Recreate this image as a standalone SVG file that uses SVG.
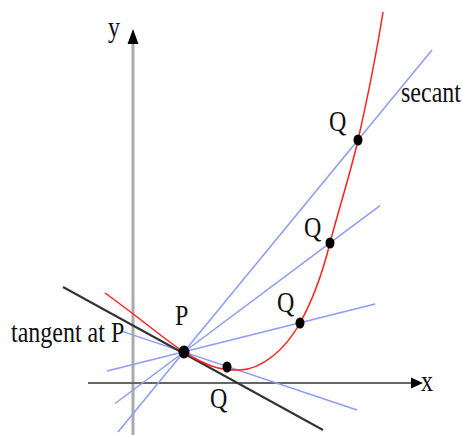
<svg xmlns="http://www.w3.org/2000/svg" width="462" height="435" viewBox="0 0 462 435">
<style>
.lbl{font-family:"Liberation Serif","Times New Roman",serif;font-size:24px;fill:#111}
.sec{stroke:#8c9cf5;stroke-width:1.5;fill:none}
.dot{fill:#000}
</style>
<rect width="462" height="435" fill="#fff"/>
<g id="axes">
<line x1="133" y1="435" x2="133" y2="42" stroke="#aaa" stroke-width="3"/>
<polygon points="133,29 138.5,44 127.5,44" fill="#000"/>
<line x1="88" y1="383" x2="412" y2="383" stroke="#666" stroke-width="2"/>
<polygon points="423,383 411,377.5 411,388.5" fill="#000"/>
</g>
<g id="connectors">
<line class="sec" x1="123" y1="331.6" x2="357" y2="410"/>
<line class="sec" x1="107" y1="371" x2="375" y2="304"/>
<line class="sec" x1="115" y1="403.5" x2="380" y2="205.6"/>
<line class="sec" x1="118" y1="432" x2="432" y2="50"/>
<line x1="63" y1="287" x2="323" y2="430" stroke="#333" stroke-width="2"/>
</g>
<g id="curve">
<path d="M105,293 C140,318 165,340 184,352 C205,365 220,371 240,370 C262,369 285,350 300,323 C310,305 322,275 330,243 C337,215 350,175 358,140 C365,109 377,50 383,12" fill="none" stroke="#ff2020" stroke-width="1.5"/>
</g>
<g id="P"><ellipse class="dot" cx="184" cy="352" rx="5.5" ry="6.5"/></g>
<g id="Q1"><ellipse class="dot" cx="227" cy="367" rx="4.5" ry="5.5"/></g>
<g id="Q2"><ellipse class="dot" cx="300" cy="323" rx="4.5" ry="5.5"/></g>
<g id="Q3"><ellipse class="dot" cx="330" cy="243" rx="4.5" ry="5.5"/></g>
<g id="Q4"><ellipse class="dot" cx="358" cy="140" rx="4.5" ry="5.5"/></g>
<g id="labels">
<text class="lbl" transform="translate(108,37) scale(1,1.25)">y</text>
<text class="lbl" transform="translate(421,391) scale(1,1.25)">x</text>
<text class="lbl" transform="translate(401,102) scale(1,1.25)">secant</text>
<text class="lbl" transform="translate(11,342) scale(1,1.25)">tangent at P</text>
<text class="lbl" transform="translate(175,325) scale(1,1.25)">P</text>
<text class="lbl" transform="translate(210,408) scale(1,1.25)">Q</text>
<text class="lbl" transform="translate(277,312) scale(1,1.25)">Q</text>
<text class="lbl" transform="translate(304,237) scale(1,1.25)">Q</text>
<text class="lbl" transform="translate(329,131) scale(1,1.25)">Q</text>
</g>
</svg>
